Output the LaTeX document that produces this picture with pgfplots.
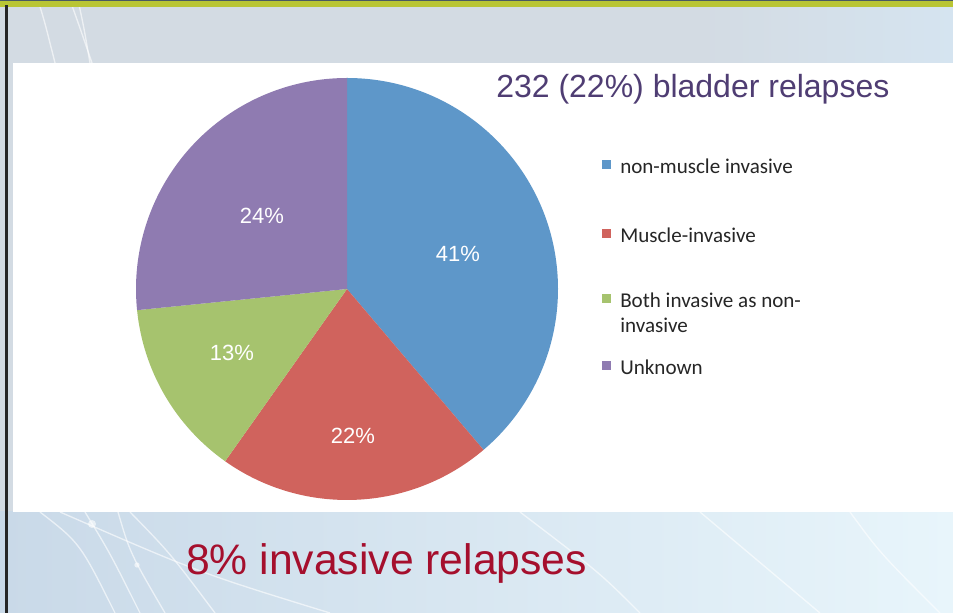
\documentclass[border=0pt]{standalone}
\usepackage{pgfplots}
\pgfplotsset{compat=1.18}
\usepackage{pgfplotstable}
\usepackage{fontspec}
\setmainfont{Liberation Sans}
\newfontfamily\calibri{Carlito}

\definecolor{slice0}{HTML}{5E97C9}
\definecolor{slice1}{HTML}{D0635D}
\definecolor{slice2}{HTML}{A6C36E}
\definecolor{slice3}{HTML}{8F7BB1}
\definecolor{titlepurple}{HTML}{4F3D73}
\definecolor{slidered}{HTML}{A50F2D}
\definecolor{topbar}{HTML}{B9C534}
\definecolor{topline}{HTML}{4A5A62}
\definecolor{slidegray}{HTML}{D3DBE3}
\definecolor{slideblue}{HTML}{D5E4F0}
\definecolor{lowleft}{HTML}{C9D9E8}
\definecolor{lowright}{HTML}{E8F5FB}

% slice shares as drawn (percent of the circle), printed label, label position
\pgfplotstableread{
share label x   y
38.8  41    458 359
21.0  22    353 177
13.6  13    232 260
26.6  24    262 397
}\piedata

% cumulative angles, clockwise from 12 o'clock
\def\startangle{90}
\pgfplotsforeachungrouped \i in {0,...,3}{%
  \pgfplotstablegetelem{\i}{share}\of\piedata
  \pgfmathsetmacro\endangle{\startangle-3.6*\pgfplotsretval}%
  \expandafter\xdef\csname pa\i\endcsname{\startangle}%
  \expandafter\xdef\csname pb\i\endcsname{\endangle}%
  \xdef\startangle{\endangle}%
}

\begin{document}
\begin{tikzpicture}
\begin{axis}[
    x=0.75pt, y=0.75pt,
    xmin=0, xmax=953, ymin=0, ymax=613,
    hide axis, disabledatascaling,
]
% slide background
\fill[slidegray] (axis cs:0,0) rectangle (axis cs:953,613);
\shade[left color=slidegray, right color=slideblue] (axis cs:700,550) rectangle (axis cs:953,606);
\shade[left color=lowleft, right color=lowright] (axis cs:0,0) rectangle (axis cs:953,101);
% background swooshes
\begin{scope}[white, opacity=0.6, line width=1pt]
\draw (axis cs:38,613) .. controls (axis cs:45,590) .. (axis cs:55,550);
\draw (axis cs:70,613) .. controls (axis cs:80,585) .. (axis cs:92,550);
\draw (axis cs:78,613) .. controls (axis cs:84,585) .. (axis cs:90,550);
\draw (axis cs:40,101) .. controls (axis cs:80,70) .. (axis cs:115,0);
\draw (axis cs:85,101) .. controls (axis cs:110,60) .. (axis cs:140,0);
\draw (axis cs:118,101) .. controls (axis cs:130,60) .. (axis cs:165,0);
\draw (axis cs:130,101) .. controls (axis cs:170,60) .. (axis cs:215,0);
\draw (axis cs:60,101) .. controls (axis cs:200,40) .. (axis cs:330,0);
\draw (axis cs:520,101) .. controls (axis cs:600,40) .. (axis cs:640,0);
\draw (axis cs:700,101) .. controls (axis cs:760,50) .. (axis cs:820,0);
\draw (axis cs:850,101) .. controls (axis cs:880,60) .. (axis cs:940,0);
\fill (axis cs:92,89) circle[radius=3pt];
\fill (axis cs:137,48) circle[radius=2pt];
\end{scope}
% top bar and left border
\fill[topbar] (axis cs:0,605.5) rectangle (axis cs:953,612);
\fill[topline] (axis cs:0,611.5) rectangle (axis cs:953,613);
\fill[black!85] (axis cs:5,0) rectangle (axis cs:7.5,608);
% white chart panel
\fill[white] (axis cs:13,101) rectangle (axis cs:953,550);

% pie slices
\pgfplotsinvokeforeach{0,...,3}{
  \fill[slice#1] (axis cs:347,324) -- ([shift={(\csname pa#1\endcsname:158.25pt)}]axis cs:347,324)
     arc[start angle=\csname pa#1\endcsname, end angle=\csname pb#1\endcsname, radius=158.25pt] -- cycle;
}

% slice labels
\addplot[only marks, mark=none, point meta=explicit symbolic,
    nodes near coords={\pgfplotspointmeta\%},
    nodes near coords align=center,
    every node near coord/.append style={white, font=\fontsize{16.5pt}{18pt}\selectfont, anchor=center, inner sep=0pt}]
    table[x=x, y=y, meta=label] {\piedata};

% legend
\fill[slice0] (axis cs:602,444) rectangle (axis cs:611,453);
\fill[slice1] (axis cs:602,375) rectangle (axis cs:611,384);
\fill[slice2] (axis cs:602,310) rectangle (axis cs:611,319);
\fill[slice3] (axis cs:602,243) rectangle (axis cs:611,252);
\begin{scope}[every node/.style={anchor=base west, inner sep=0pt, text=black!85, font=\calibri\fontsize{15.8pt}{18.8pt}\selectfont}]
\node at (axis cs:620,439) {non-muscle invasive};
\node at (axis cs:620,370) {Muscle-invasive};
\node at (axis cs:620,305) {Both invasive as non-};
\node at (axis cs:620,280) {invasive};
\node at (axis cs:620,238) {Unknown};
\end{scope}

% titles
\node[anchor=base west, inner sep=0pt, text=titlepurple, font=\fontsize{24pt}{28pt}\selectfont] at (axis cs:496,515) {232 (22\%) bladder relapses};
\node[anchor=base west, inner sep=0pt, text=slidered, font=\fontsize{32pt}{38pt}\selectfont] at (axis cs:186,38) {8\% invasive relapses};
\end{axis}
\pgfresetboundingbox
\useasboundingbox (current axis.south west) rectangle (current axis.north east);
\end{tikzpicture}
\end{document}
